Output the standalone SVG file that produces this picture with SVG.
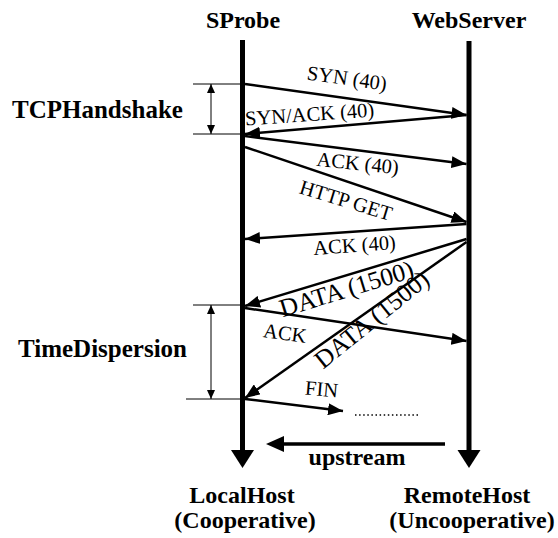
<svg xmlns="http://www.w3.org/2000/svg" width="558" height="538" viewBox="0 0 558 538">
<defs>
<style>
.title{font-family:"Liberation Serif",serif;font-weight:bold;font-size:24px;fill:#000;text-anchor:middle}
.side{font-family:"Liberation Serif",serif;font-weight:bold;font-size:25px;fill:#000}
.msg{font-family:"Liberation Serif",serif;font-size:20.5px;fill:#000;text-anchor:middle}
.big{font-family:"Liberation Serif",serif;font-size:25.5px;fill:#000;text-anchor:middle}
.life{stroke:#000;stroke-width:5;fill:none}
.m{stroke:#000;stroke-width:2.5;fill:none;marker-end:url(#ah)}
.thin{stroke:#000;stroke-width:1;fill:none}
.dim{stroke:#000;stroke-width:1;fill:none;marker-start:url(#sa);marker-end:url(#sa)}
</style>
<marker id="ah" markerUnits="userSpaceOnUse" markerWidth="16" markerHeight="12" refX="15" refY="6" orient="auto">
<path d="M0,0 L15,6 L0,12 z" fill="#000"/>
</marker>
<marker id="sa" markerUnits="userSpaceOnUse" markerWidth="10" markerHeight="8" refX="9" refY="4" orient="auto-start-reverse">
<path d="M0,0 L9,4 L0,8 z" fill="#000"/>
</marker>
</defs>
<rect width="558" height="538" fill="#fff"/>

<g id="sprobe">
<text class="title" x="243" y="28">SProbe</text>
<line class="life" x1="242.5" y1="40" x2="242.5" y2="452"/>
<polygon points="231,450 254,450 242.5,468" fill="#000"/>
<text class="title" x="242" y="503">LocalHost</text>
<text class="title" x="245" y="528">(Cooperative)</text>
</g>

<g id="webserver">
<text class="title" x="469" y="28">WebServer</text>
<line class="life" x1="469" y1="41" x2="469" y2="452"/>
<polygon points="457.5,450 480.5,450 469,468" fill="#000"/>
<text class="title" x="467" y="503">RemoteHost</text>
<text class="title" x="472" y="528">(Uncooperative)</text>
</g>

<g id="tcphandshake">
<text class="side" x="12" y="118">TCPHandshake</text>
<line class="thin" x1="193" y1="84" x2="242" y2="84"/>
<line class="thin" x1="193" y1="134" x2="242" y2="134"/>
<line class="dim" x1="211" y1="84" x2="211" y2="134"/>
</g>

<g id="timedispersion">
<text class="side" x="18" y="357">TimeDispersion</text>
<line class="thin" x1="193" y1="305" x2="242" y2="305"/>
<line class="thin" x1="186" y1="399" x2="240" y2="399"/>
<line class="dim" x1="211" y1="305" x2="211" y2="399"/>
</g>

<g id="upstream">
<line x1="445" y1="444" x2="282" y2="444" stroke="#000" stroke-width="3.5"/>
<polygon points="266,444 284,436 284,452" fill="#000"/>
<text class="title" x="357" y="465">upstream</text>
</g>

<g id="connectors">
<line class="m" x1="245" y1="84" x2="466.5" y2="115"/>
<line class="m" x1="466.5" y1="115" x2="245" y2="134"/>
<line class="m" x1="245" y1="136" x2="466.5" y2="164"/>
<line class="m" x1="245" y1="147" x2="466.5" y2="222"/>
<line class="m" x1="466.5" y1="224" x2="245" y2="239"/>
<line class="m" x1="466.5" y1="239" x2="245" y2="306"/>
<line class="m" x1="245" y1="308" x2="466.5" y2="341"/>
<line class="m" x1="466.5" y1="242" x2="245" y2="398"/>
<line class="m" x1="245" y1="399" x2="343" y2="411"/>
<line x1="355" y1="415" x2="420" y2="415" stroke="#000" stroke-width="1.5" stroke-dasharray="1.5 2.6"/>

<text class="msg" transform="translate(346,85) rotate(8)">SYN (40)</text>
<text class="msg" transform="translate(310,121) rotate(-4)">SYN/ACK (40)</text>
<text class="msg" transform="translate(357,170) rotate(6)">ACK (40)</text>
<text class="msg" transform="translate(344,207) rotate(17)">HTTP GET</text>
<text class="msg" transform="translate(355,252) rotate(-4)">ACK (40)</text>
<text class="big" transform="translate(349,297) rotate(-17)">DATA (1500)</text>
<text class="msg" transform="translate(284,340) rotate(8)">ACK</text>
<text class="big" transform="translate(377,326) rotate(-39)">DATA (1500)</text>
<text class="msg" transform="translate(321,396) rotate(5)">FIN</text>
</g>
</svg>
